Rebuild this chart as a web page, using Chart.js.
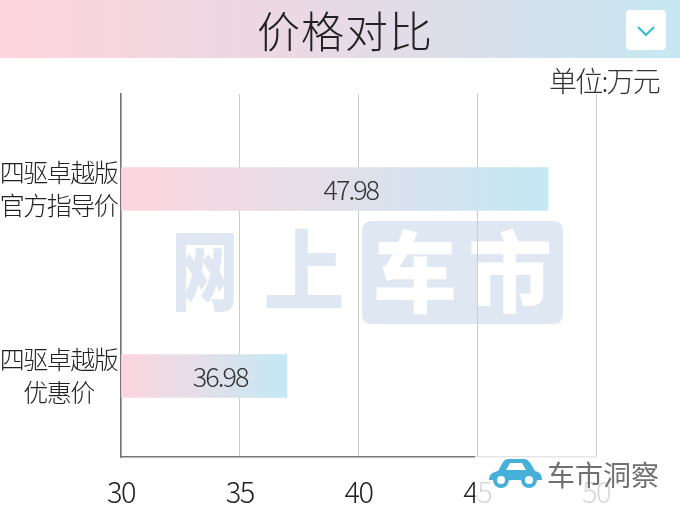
<!DOCTYPE html>
<html>
<head>
<meta charset="utf-8">
<script src="https://cdn.jsdelivr.net/npm/chart.js@4"></script>
<style>
  html, body { margin:0; padding:0; background:#fff; }
  #wrap { position:relative; width:680px; height:510px; overflow:hidden; font-family:"Noto Sans CJK SC","Noto Sans",sans-serif; }
  #titlebar { position:absolute; left:0; top:0; width:680px; height:58px;
    background:linear-gradient(90deg,#fdd4dc 0%,#ead9e4 45%,#c6e8f3 100%); }
  #title { position:absolute; left:0; width:690px; top:3px; text-align:center; font-size:43px; color:#222; line-height:52px; font-weight:300; letter-spacing:1px; }
  #dd { position:absolute; left:626px; top:10px; width:40px; height:40px; background:#fff; border-radius:4px; }
  #unit { position:absolute; right:21px; top:61px; font-size:28px; color:#333; line-height:38px; font-weight:300; letter-spacing:-1.8px; }
  canvas#c { position:absolute; left:0; top:0; }
  #logo { position:absolute; left:475px; top:456px; width:205px; height:54px; background:rgba(255,255,255,0.82); }
  #logotxt { position:absolute; left:547px; top:456px; font-size:28px; color:#707070; line-height:36px; letter-spacing:0px; }
  #car { position:absolute; left:486px; top:458px; }
</style>
</head>
<body>
<div id="wrap">
  <canvas id="c" width="680" height="510"></canvas>
  <div id="titlebar"><div id="title">价格对比</div>
    <div id="dd"><svg width="40" height="40"><polyline points="12,17 20,25 28,17" fill="none" stroke="#35bccd" stroke-width="2.2"/></svg></div>
  </div>
  <div id="unit">单位:万元</div>
  <div id="logo"></div>
  <svg id="car" width="58" height="32" viewBox="0 0 58 32">
    <path d="M3,22 C3,17 6,14 12,13 L17,4 C18,2 20,1 23,1 L38,1 C41,1 43,3 45,6 L49,13 C54,14 56,17 56,22 Z" fill="#46b0d8"/>
    <path d="M20,12 L24,5 L36,5 L40,12 Z" fill="#fff"/>
    <circle cx="15" cy="22" r="8" fill="#46b0d8"/><circle cx="15" cy="22" r="4" fill="#fff"/>
    <circle cx="43" cy="22" r="8" fill="#46b0d8"/><circle cx="43" cy="22" r="4" fill="#fff"/>
  </svg>
  <div id="logotxt">车市洞察</div>
</div>
<script>
const categories = [["四驱卓越版","官方指导价"],["四驱卓越版","优惠价"]];
const prices = [47.98, 36.98];
const priceLabels = ["47.98", "36.98"];
const xTicks = [30, 35, 40, 45, 50];

const FONT = '"Noto Sans CJK SC","Noto Sans",sans-serif';

function barGradient(ctx) {
  const chart = ctx.chart;
  const xs = chart.scales.x;
  if (!xs || !chart.chartArea) return '#e8dde6';
  const x0 = xs.getPixelForValue(xs.min);
  const x1 = xs.getPixelForValue(prices[ctx.dataIndex]);
  if (!isFinite(x0) || !isFinite(x1) || x1 <= x0) return '#e8dde6';
  const g = chart.ctx.createLinearGradient(x0, 0, x1, 0);
  g.addColorStop(0, '#fdd5dd');
  g.addColorStop(0.5, '#e2dfea');
  g.addColorStop(1, '#c4e9f5');
  return g;
}

const watermark = {
  id: 'watermark',
  beforeDraw(chart) {
    const c = chart.ctx;
    c.save();
    c.fillStyle = '#dfe7f2';
    c.font = '900 88px ' + FONT;
    c.textBaseline = 'middle';
    c.textAlign = 'center';
    c.save(); c.translate(205, 270); c.scale(0.76, 1.0); c.fillText('网', 0, 0); c.restore();
    c.save(); c.translate(304, 270); c.scale(0.92, 1.0); c.fillText('上', 0, 0); c.restore();
    const rx = 362, ry = 221, rw = 201, rh = 103, r = 10;
    c.beginPath();
    c.moveTo(rx + r, ry); c.lineTo(rx + rw - r, ry); c.quadraticCurveTo(rx + rw, ry, rx + rw, ry + r);
    c.lineTo(rx + rw, ry + rh - r); c.quadraticCurveTo(rx + rw, ry + rh, rx + rw - r, ry + rh);
    c.lineTo(rx + r, ry + rh); c.quadraticCurveTo(rx, ry + rh, rx, ry + rh - r);
    c.lineTo(rx, ry + r); c.quadraticCurveTo(rx, ry, rx + r, ry);
    c.fill();
    c.fillStyle = '#ffffff';
    c.save(); c.translate(415, 272); c.scale(0.95, 1.0); c.fillText('车', 0, 0); c.restore();
    c.save(); c.translate(510, 272); c.scale(0.95, 1.0); c.fillText('市', 0, 0); c.restore();
    c.restore();
    chart.ctx.letterSpacing = '-1.5px';
  }
};

const valueLabels = {
  id: 'valueLabels',
  afterDatasetsDraw(chart) {
    const c = chart.ctx;
    const meta = chart.getDatasetMeta(0);
    c.save();
    c.letterSpacing = '-2px';
    c.font = '300 27px ' + FONT;
    c.fillStyle = '#333';
    c.textAlign = 'center';
    c.textBaseline = 'middle';
    meta.data.forEach((el, i) => {
      const cx = (el.base + el.x) / 2 + 16;
      c.fillText(priceLabels[i], cx, el.y + 1);
    });
    c.restore();
  }
};

new Chart(document.getElementById('c'), {
  type: 'bar',
  data: {
    datasets: [{
      data: prices.map((v, i) => ({ x: v, y: i })),
      backgroundColor: barGradient,
      borderWidth: 0,
      barThickness: 43,
      base: 30
    }]
  },
  options: {
    indexAxis: 'y',
    responsive: false,
    animation: false,
    devicePixelRatio: 1,
    layout: { padding: { top: 94, right: 84, left: 0, bottom: 0 } },
    plugins: { legend: { display: false }, tooltip: { enabled: false } },
    scales: {
      x: {
        type: 'linear',
        min: 30, max: 50,
        afterBuildTicks(scale) { scale.ticks = xTicks.map(v => ({ value: v })); },
        afterFit(scale) { scale.height = 53; },
        grid: { color: '#cccccc', lineWidth: 1, drawTicks: false },
        border: { display: true, color: '#777', width: 1.5 },
        ticks: { padding: 18, color: '#222', font: { family: FONT, size: 29, weight: 300 } }
      },
      y: {
        type: 'linear',
        reverse: true,
        offset: false,
        min: -0.508, max: 1.433,
        afterBuildTicks(scale) { scale.ticks = categories.map((_, i) => ({ value: i })); },
        afterFit(scale) { scale.width = 121; },
        grid: { display: false, drawTicks: false, offset: false },
        border: { display: true, color: '#777', width: 1.5 },
        ticks: {
          padding: 0, crossAlign: 'center', color: '#222',
          callback: (v) => categories[v],
          font: { family: FONT, size: 25, weight: 300, lineHeight: 1.3 }
        }
      }
    }
  },
  plugins: [watermark, valueLabels]
});
</script>
</body>
</html>
